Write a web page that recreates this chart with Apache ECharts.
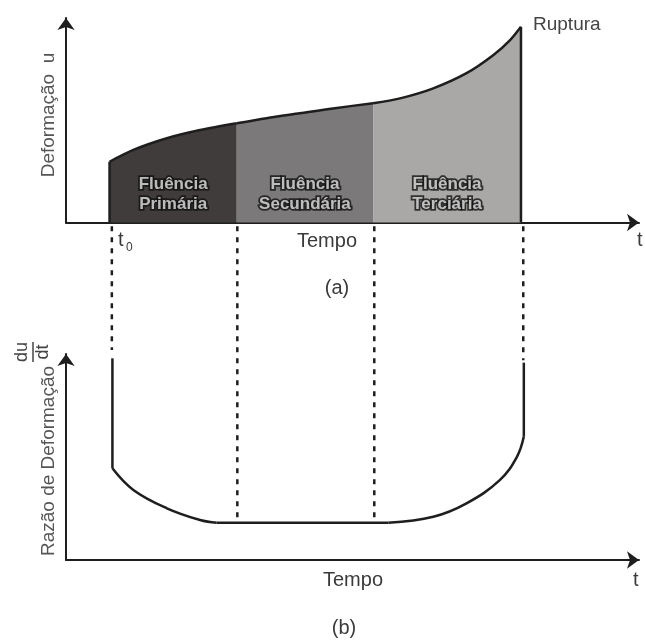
<!DOCTYPE html>
<html style="height: 100%">

<head>
	<meta charset="utf-8">
</head>

<body style="height: 100%; margin: 0; background: #fff">
	<div id="container" style="width: 645px; height: 643px;"></div>

	<script type="text/javascript" src="https://cdn.jsdelivr.net/npm/echarts@6/dist/echarts.min.js"></script>
	<script type="text/javascript">
		// (a) deformação u x tempo, em tres fases (tempo 0-100, u 0-100)
		let primaria = [[7.6, 29.7], [11.75, 35.5], [17.6, 41.2], [23.4, 45.2], [29.8, 48.5]];
		let secundaria = [[29.8, 48.5], [35.0, 51.0], [40.8, 53.4], [46.6, 55.8], [53.6, 58.3]];
		let terciaria = [[53.6, 58.3], [58.3, 60.7], [64.1, 65.6], [69.9, 73.0], [74.6, 81.9], [77.5, 89.2], [79.4, 95.7]];
		let fases = ['Fluência\nPrimária', 'Fluência\nSecundária', 'Fluência\nTerciária'];
		let alturaRotulo = 13.9;

		// (b) razão de deformação du/dt x tempo
		let razaoInicio = [[8.1, 97.9], [8.1, 44.5]];
		let razaoQueda = [[8.1, 44.5], [11.75, 34.0], [17.6, 25.1], [23.4, 19.4], [26.3, 18.1]];
		let razaoPatamar = [[26.3, 18.1], [56.25, 18.1]];
		let razaoSubida = [[56.25, 18.1], [64.1, 21.0], [69.9, 27.5], [75.7, 38.8], [78.7, 50.1], [79.9, 59.9]];
		let razaoFim = [[79.9, 59.9], [79.9, 95.8]];

		// linhas tracejadas entre os graficos (tempo, topo, fim)
		let tracoTempo = [8.0, 29.9, 53.8, 79.8];
		let tracoTopo = 162;
		let tracoFim = [102, 18.1, 18.1, 97];

		let corLinha = '#1e1e1e';
		let fonte = 'Liberation Sans, Arial, sans-serif';

		let dom = document.getElementById("container");
		let myChart = echarts.init(dom);

		function eixo(grid) {
			return {
				type: 'value',
				gridIndex: grid,
				min: 0,
				max: 100,
				axisLine: {
					show: true,
					onZero: false,
					symbol: ['none', 'arrow'],
					symbolSize: [13, 12],
					lineStyle: { color: corLinha, width: 2 }
				},
				axisTick: { show: false },
				axisLabel: { show: false },
				splitLine: { show: false }
			};
		}

		function area(dados, cor) {
			return {
				type: 'line',
				xAxisIndex: 0,
				yAxisIndex: 0,
				data: dados,
				smooth: 0.3,
				symbol: 'none',
				lineStyle: { color: corLinha, width: 2.5 },
				areaStyle: { color: cor, opacity: 1 }
			};
		}

		function linha(dados, indice, suave) {
			return {
				type: 'line',
				xAxisIndex: indice,
				yAxisIndex: indice,
				data: dados,
				smooth: suave,
				symbol: 'none',
				clip: false,
				lineStyle: { color: corLinha, width: 2.5 }
			};
		}

		let series = [
			area(primaria, '#403c3b'),
			area(secundaria, '#7b7979'),
			area(terciaria, '#a9a8a7'),
			linha([[primaria[0][0], 0], primaria[0]], 0, false),
			linha([terciaria[terciaria.length - 1], [terciaria[terciaria.length - 1][0], 0]], 0, false),
			{
				type: 'scatter',
				xAxisIndex: 0,
				yAxisIndex: 0,
				symbolSize: 2,
				itemStyle: { color: 'rgba(0,0,0,0)' },
				z: 5,
				data: fases.map(function (nome, i) {
					let ini = [primaria, secundaria, terciaria][i];
					let meio = (ini[0][0] + ini[ini.length - 1][0]) / 2;
					return { name: nome, value: [meio, alturaRotulo] };
				}),
				label: {
					show: true,
					position: 'inside',
					formatter: '{b}',
					fontFamily: fonte,
					fontSize: 17,
					fontWeight: 'bold',
					lineHeight: 20,
					color: '#e4e4e4',
					textBorderColor: '#111',
					textBorderWidth: 3.5
				}
			},
			linha(razaoInicio, 1, false),
			linha(razaoQueda, 1, 0.4),
			linha(razaoPatamar, 1, false),
			linha(razaoSubida, 1, 0.4),
			linha(razaoFim, 1, false)
		];

		tracoTempo.forEach(function (t, i) {
			let s = linha([[t, tracoTopo], [t, tracoFim[i]]], 1, false);
			s.lineStyle = { color: corLinha, width: 2.5, type: [5, 6] };
			series.push(s);
		});

		function texto(t, x, y, opts) {
			return {
				type: 'text',
				x: x,
				y: y,
				rotation: (opts && opts.rot) || 0,
				style: {
					text: t,
					fontFamily: fonte,
					fontSize: (opts && opts.size) || 19,
					fill: (opts && opts.cor) || '#3a3a3a',
					align: (opts && opts.align) || 'center',
					verticalAlign: 'middle'
				}
			};
		}

		let option = {
			animation: false,
			backgroundColor: '#fff',
			grid: [
				{ left: 66, right: 6, top: 18, bottom: 420.5 },
				{ left: 66, right: 6, top: 354, bottom: 83 }
			],
			xAxis: [eixo(0), eixo(1)],
			yAxis: [eixo(0), eixo(1)],
			series: series,
			graphic: [
				texto('Deformação  u', 49, 115, { rot: Math.PI / 2, cor: '#555' }),
				texto('Razão de Deformação', 49, 461, { rot: Math.PI / 2, cor: '#555' }),
				{
					type: 'group',
					x: 33,
					y: 352,
					rotation: Math.PI / 2,
					children: [
						{ type: 'text', x: 0, y: -2, style: { text: 'du', fontFamily: fonte, fontSize: 18, fill: '#444', align: 'center', verticalAlign: 'bottom' } },
						{ type: 'line', shape: { x1: -10, y1: 0, x2: 10, y2: 0 }, style: { stroke: '#444', lineWidth: 1.5 } },
						{ type: 'text', x: 0, y: 1, style: { text: 'dt', fontFamily: fonte, fontSize: 18, fill: '#444', align: 'center', verticalAlign: 'top' } }
					]
				},
				texto('Ruptura', 533, 25, { align: 'left', cor: '#444' }),
				texto('t', 118, 240, { align: 'left', size: 20 }),
				texto('0', 126, 248, { align: 'left', size: 12 }),
				texto('Tempo', 327, 241, { size: 20 }),
				texto('t', 637, 240, { align: 'left', size: 20 }),
				texto('(a)', 337, 288, { size: 20 }),
				texto('Tempo', 353, 580, { size: 20 }),
				texto('t', 633, 580, { align: 'left', size: 20 }),
				texto('(b)', 344, 628, { size: 20 })
			]
		};

		myChart.setOption(option, true);
	</script>
</body>

</html>
